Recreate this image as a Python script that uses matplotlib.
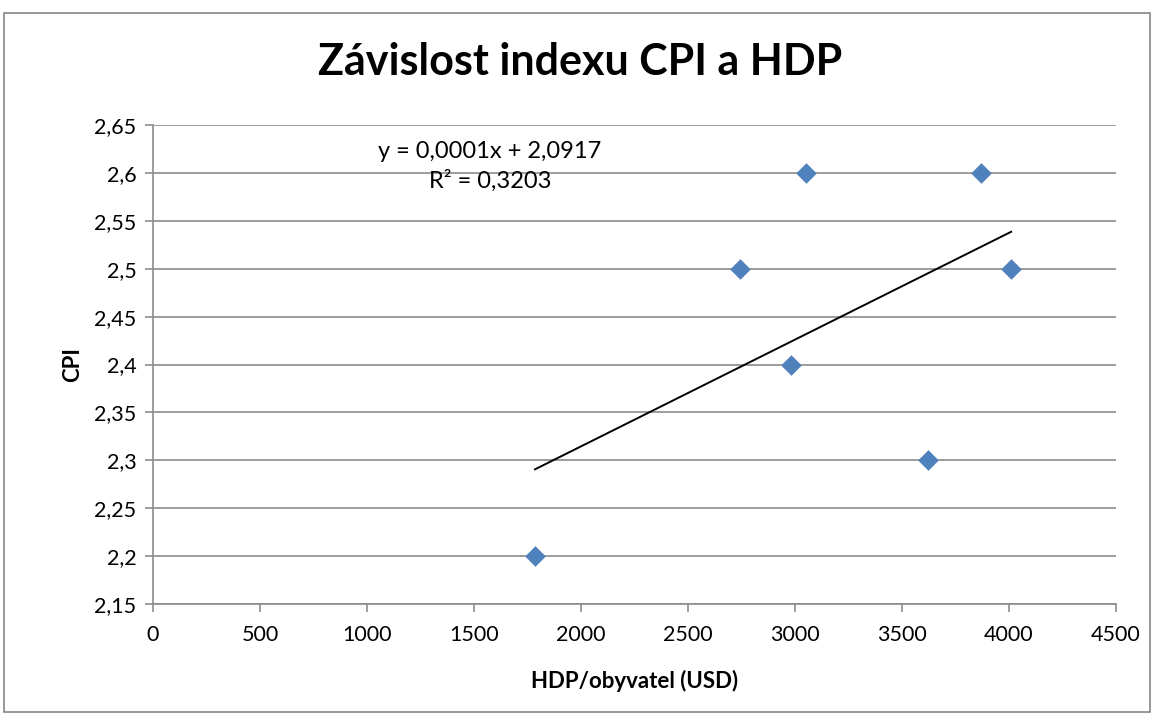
import numpy as np
import matplotlib
matplotlib.use("Agg")
import matplotlib.pyplot as plt
from matplotlib.patches import Rectangle
from matplotlib.ticker import FuncFormatter

hdp = [1785, 2745, 2980, 3050, 3620, 3870, 4010]
cpi = [2.2, 2.5, 2.4, 2.6, 2.3, 2.6, 2.5]
title = "Závislost indexu CPI a HDP"
xlabel = "HDP/obyvatel (USD)"
ylabel = "CPI"
eq_text = "y = 0,0001x + 2,0917\nR² = 0,3203"

plt.rcParams['font.family'] = ['Lato', 'DejaVu Sans']

fig = plt.figure(figsize=(11.6, 7.2), dpi=100)
fig.patches.append(Rectangle((4/1160, 1 - 712/720), 1146/1160, 699/720,
                             transform=fig.transFigure, fill=False,
                             edgecolor='#868686', linewidth=1.2))
ax = fig.add_axes([153/1160, 1 - 604/720, (1116 - 153)/1160, (604 - 125)/720])

ax.set_xlim(0, 4500)
ax.set_ylim(2.15, 2.65)
ax.set_xticks(np.arange(0, 4501, 500))
ax.set_yticks(np.round(np.arange(2.15, 2.651, 0.05), 2))
ax.yaxis.set_major_formatter(FuncFormatter(lambda v, p: f"{v:g}".replace('.', ',')))
ax.grid(axis='y', color='#8c8c8c', linewidth=1.2)
ax.set_axisbelow(True)
for s in ['top', 'right']:
    ax.spines[s].set_visible(False)
for s in ['left', 'bottom']:
    ax.spines[s].set_color('#8c8c8c')
    ax.spines[s].set_linewidth(1.2)
ax.tick_params(axis='both', colors='#8c8c8c', labelcolor='black', labelsize=15.5,
               length=6, width=1.2)
ax.tick_params(axis='x', pad=9)
ax.tick_params(axis='y', pad=6)

ax.scatter(hdp, cpi, marker='D', s=110, color='#4F81BD', zorder=3, linewidths=0)

k, q = np.polyfit(hdp, cpi, 1)
xs = np.array([min(hdp), max(hdp)])
ax.plot(xs, k * xs + q, color='black', linewidth=1.4, zorder=2)

ax.text(1575, 2.607, eq_text, ha='center', va='center', fontsize=17, linespacing=1.45)

ax.set_xlabel(xlabel, fontsize=16, fontweight='bold', labelpad=18)
ax.set_ylabel(ylabel, fontsize=16, fontweight='bold', labelpad=8)
fig.text(0.5, 1 - 62/720, title, ha='center', va='center', fontsize=31, fontweight='bold')

fig.savefig('out.png', dpi=100)
